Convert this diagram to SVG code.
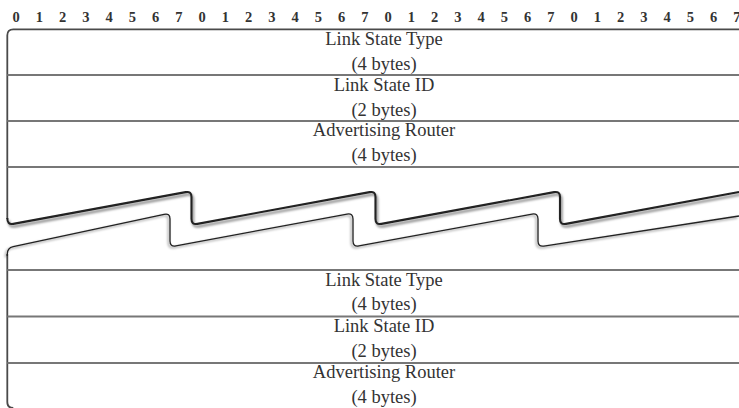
<svg xmlns="http://www.w3.org/2000/svg" width="739" height="408" viewBox="0 0 739 408">
<style>
.bit{font-family:"Liberation Serif","Times New Roman",serif;font-weight:bold;font-size:14.5px;fill:#333;text-anchor:middle}
.lbl{font-family:"Liberation Serif","Times New Roman",serif;font-size:18.5px;fill:#333;text-anchor:middle}
.sep{stroke:#777;stroke-width:2;fill:none}
.frame{stroke:#4a4a4a;stroke-width:1.8;fill:none}
.tearU{stroke:#222;stroke-width:2.1;fill:none;filter:url(#shU)}
.tearL{stroke:#222;stroke-width:1.3;fill:none;filter:url(#shL)}
</style>
<defs>
<filter id="shU" x="-5%" y="-30%" width="110%" height="180%">
<feDropShadow dx="1.5" dy="2.5" stdDeviation="1" flood-color="#000" flood-opacity="0.5"/>
</filter>
<filter id="shL" x="-5%" y="-30%" width="110%" height="180%">
<feDropShadow dx="-1.5" dy="1.5" stdDeviation="0.8" flood-color="#000" flood-opacity="0.45"/>
</filter>
</defs>
<rect width="739" height="408" fill="#fff"/>
<g id="bits">
<text class="bit" x="16" y="21.7">0</text><text class="bit" x="39.25" y="21.7">1</text><text class="bit" x="62.5" y="21.7">2</text><text class="bit" x="85.75" y="21.7">3</text><text class="bit" x="109" y="21.7">4</text><text class="bit" x="132.25" y="21.7">5</text><text class="bit" x="155.5" y="21.7">6</text><text class="bit" x="178.75" y="21.7">7</text>
<text class="bit" x="202" y="21.7">0</text><text class="bit" x="225.25" y="21.7">1</text><text class="bit" x="248.5" y="21.7">2</text><text class="bit" x="271.75" y="21.7">3</text><text class="bit" x="295" y="21.7">4</text><text class="bit" x="318.25" y="21.7">5</text><text class="bit" x="341.5" y="21.7">6</text><text class="bit" x="364.75" y="21.7">7</text>
<text class="bit" x="388" y="21.7">0</text><text class="bit" x="411.25" y="21.7">1</text><text class="bit" x="434.5" y="21.7">2</text><text class="bit" x="457.75" y="21.7">3</text><text class="bit" x="481" y="21.7">4</text><text class="bit" x="504.25" y="21.7">5</text><text class="bit" x="527.5" y="21.7">6</text><text class="bit" x="550.75" y="21.7">7</text>
<text class="bit" x="574" y="21.7">0</text><text class="bit" x="597.25" y="21.7">1</text><text class="bit" x="620.5" y="21.7">2</text><text class="bit" x="643.75" y="21.7">3</text><text class="bit" x="667" y="21.7">4</text><text class="bit" x="690.25" y="21.7">5</text><text class="bit" x="713.5" y="21.7">6</text><text class="bit" x="736.75" y="21.7">7</text>
</g>
<g id="frame">
<path class="frame" d="M 739 29.3 H 13.3 Q 7.3 29.3 7.3 35.3 V 219"/>
<path class="frame" d="M 7.3 254 V 402 Q 7.3 408 13.3 408"/>
</g>
<g id="break">
<path class="tearU" d="M 7.3 218 Q 7.3 225 13.2 223.9 L 185.6 192.1 Q 191.5 191 191.5 197 V 219 Q 191.5 225 197.4 223.9 L 369.6 192.1 Q 375.5 191 375.5 197 V 219 Q 375.5 225 381.4 223.9 L 554.1 192.1 Q 560 191 560 197 V 219 Q 560 225 565.9 223.9 L 739 192"/>
<path class="tearL" d="M 739 216 L 543.9 246.1 Q 538 247 538 241 V 219 Q 538 213 532.1 214.1 L 358.9 245.9 Q 353 247 353 241 V 219 Q 353 213 347.1 214.1 L 175.9 245.9 Q 170 247 170 241 V 219 Q 170 213 164.1 214.3 L 13.2 246.7 Q 7.3 248 7.3 254 V 256"/>
</g>
<g id="row1-link-state-type">
<text class="lbl" x="384" y="44.5">Link State Type</text>
<text class="lbl" x="384" y="69.5">(4 bytes)</text>
</g>
<line class="sep" x1="7.3" y1="75" x2="739" y2="75"/>
<g id="row2-link-state-id">
<text class="lbl" x="384" y="90.5">Link State ID</text>
<text class="lbl" x="384" y="115.5">(2 bytes)</text>
</g>
<line class="sep" x1="7.3" y1="121" x2="739" y2="121"/>
<g id="row3-advertising-router">
<text class="lbl" x="384" y="136.3">Advertising Router</text>
<text class="lbl" x="384" y="161">(4 bytes)</text>
</g>
<line class="sep" x1="7.3" y1="167" x2="739" y2="167"/>
<line class="sep" x1="7.3" y1="270" x2="739" y2="270"/>
<g id="row4-link-state-type">
<text class="lbl" x="384" y="285.5">Link State Type</text>
<text class="lbl" x="384" y="310">(4 bytes)</text>
</g>
<line class="sep" x1="7.3" y1="316.5" x2="739" y2="316.5"/>
<g id="row5-link-state-id">
<text class="lbl" x="384" y="331.5">Link State ID</text>
<text class="lbl" x="384" y="356.5">(2 bytes)</text>
</g>
<line class="sep" x1="7.3" y1="363" x2="739" y2="363"/>
<g id="row6-advertising-router">
<text class="lbl" x="384" y="378">Advertising Router</text>
<text class="lbl" x="384" y="402.5">(4 bytes)</text>
</g>
</svg>
